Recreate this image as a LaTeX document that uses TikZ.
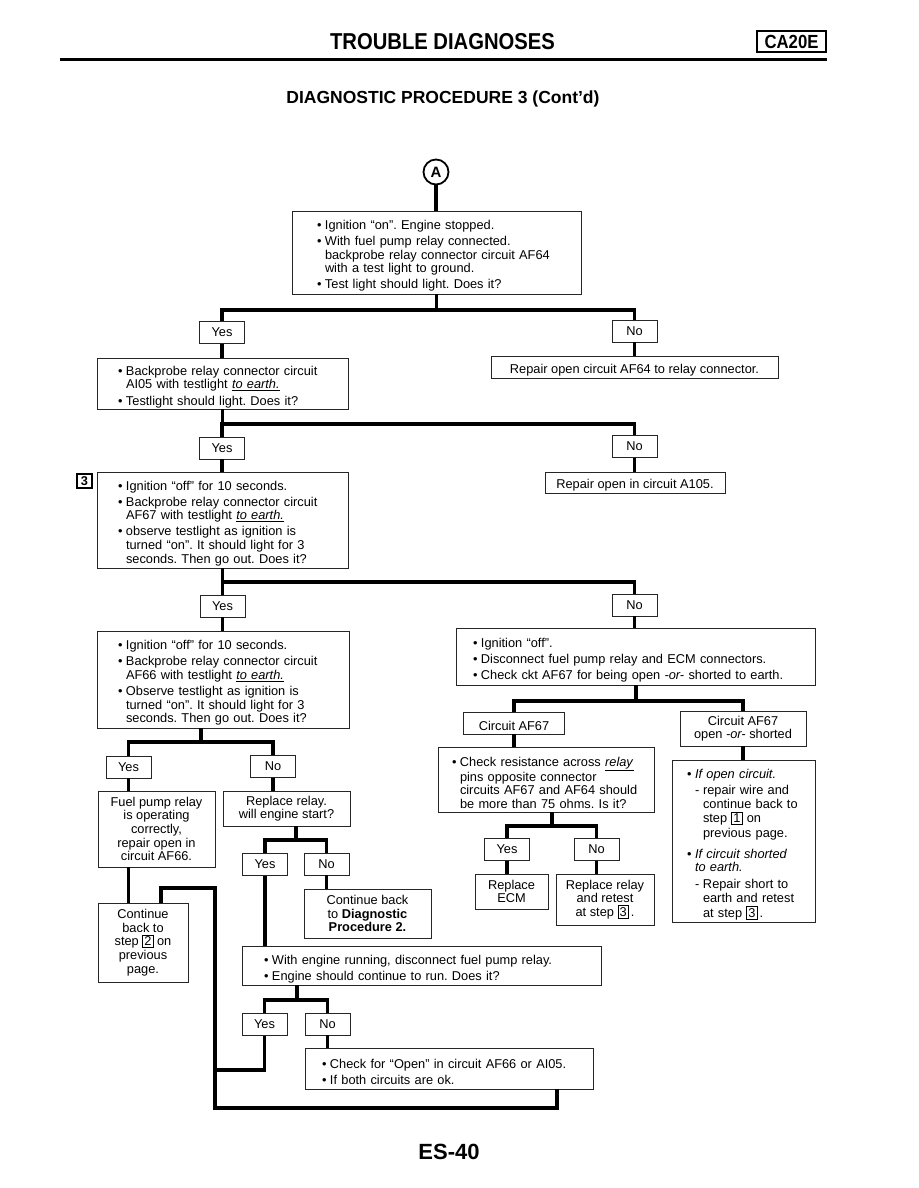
\documentclass[tikz,border=0pt]{standalone}
\usepackage{fontspec}
\usepackage{tikz}
\setmainfont{Liberation Sans}
\newfontfamily\headfont[FakeStretch=0.88]{Liberation Sans}
\frenchspacing
\newcommand{\boxfont}{\fontsize{12.8}{13.6}\selectfont}
\newcommand{\bul}{\makebox[8pt][l]{•}}
\newcommand{\ind}{\hspace*{8pt}}
\newcommand{\numbox}[1]{{\setlength{\fboxsep}{1.2pt}\setlength{\fboxrule}{0.8pt}\fbox{#1}}}

\begin{document}
\begin{tikzpicture}[x=1pt,y=-1pt,
  box/.style={draw=black!85,line width=0.9pt,fill=white,font=\boxfont,inner ysep=0pt},
  lbox/.style={box,align=left,execute at begin node={\rule{0pt}{16pt}}},
  cbox/.style={box,align=center,inner xsep=2pt,execute at begin node={\rule{0pt}{15pt}}},
  ans/.style={box,minimum width=45pt,minimum height=22pt,inner sep=0pt},
  wire/.style={line width=3.2pt}]
  \useasboundingbox (0,0) rectangle (918,1188);

  % page head
  \node[font=\headfont\fontsize{23}{26}\selectfont\bfseries] (title) at (442.5,42) {TROUBLE DIAGNOSES};
  \node[draw,line width=1.8pt,minimum width=69pt,minimum height=21pt,inner sep=0pt,
        font=\headfont\fontsize{19}{20}\selectfont\bfseries] (model) at (791.5,41.5) {CA20E};
  \coordinate (ruleL) at (60,60);
  \coordinate (ruleR) at (827,60);
  \draw[line width=3pt] (ruleL) -- (ruleR);
  \node[font=\fontsize{17.5}{20}\selectfont\bfseries] (sub) at (443,99) {DIAGNOSTIC PROCEDURE 3 (Cont’d)};
  \node[font=\fontsize{22}{24}\selectfont\bfseries] (page) at (449,1152) {ES-40};

  % first checks
  \node[circle,draw,line width=1.8pt,minimum size=25pt,inner sep=0pt,
        font=\fontsize{15}{15}\selectfont\bfseries] (conA) at (436,172) {A};
  \node[lbox,minimum height=83pt,text width=239pt,inner xsep=25pt] (chk1) at (436.5,252.5)
    {\bul Ignition “on”. Engine stopped.\\[2.5pt]
     \bul With fuel pump relay connected.\\
     \ind backprobe relay connector circuit AF64\\
     \ind with a test light to ground.\\[2.5pt]
     \bul Test light should light. Does it?};
  \node[ans] (yes1) at (222,332.5) {Yes};
  \node[ans] (no1) at (634.5,331) {No};
  \node[lbox,minimum height=51pt,text width=209pt,inner xsep=21pt] (chk2) at (222.5,383.5)
    {\bul Backprobe relay connector circuit\\
     \ind AI05 with testlight \underline{\textit{to earth.}}\\[2.5pt]
     \bul Testlight should light. Does it?};
  \node[cbox,minimum width=287pt,minimum height=22pt] (fix1) at (634.5,367) {Repair open circuit AF64 to relay connector.};
  \node[ans] (yes2) at (222,448) {Yes};
  \node[ans] (no2) at (634.5,446.5) {No};
  \node[draw,line width=1.3pt,minimum width=15pt,minimum height=14pt,inner sep=0pt,
        font=\boxfont\bfseries] (step3) at (84.5,481) {3};
  \node[lbox,minimum height=96pt,text width=209pt,inner xsep=21pt] (chk3) at (222.5,520)
    {\bul Ignition “off” for 10 seconds.\\[2.5pt]
     \bul Backprobe relay connector circuit\\
     \ind AF67 with testlight \underline{\textit{to earth.}}\\[2.5pt]
     \bul observe testlight as ignition is\\
     \ind turned “on”. It should light for 3\\
     \ind seconds. Then go out. Does it?};
  \node[cbox,minimum width=180pt,minimum height=21pt] (fix2) at (635,482.5) {Repair open in circuit A105.};
  \node[ans] (yes3) at (222.5,606) {Yes};
  \node[ans] (no3) at (634.5,605) {No};

  % left branch
  \node[lbox,minimum height=97pt,text width=210pt,inner xsep=21pt] (chk4) at (223,679.5)
    {\bul Ignition “off” for 10 seconds.\\[2.5pt]
     \bul Backprobe relay connector circuit\\
     \ind AF66 with testlight \underline{\textit{to earth.}}\\[2.5pt]
     \bul Observe testlight as ignition is\\
     \ind turned “on”. It should light for 3\\
     \ind seconds. Then go out. Does it?};
  \node[ans] (yes4) at (128.5,767) {Yes};
  \node[ans] (no4) at (273,766.5) {No};
  \node[cbox,minimum width=117pt,minimum height=76pt] (okrelay) at (156.5,829)
    {Fuel pump relay\\is operating\\correctly,\\repair open in\\circuit AF66.};
  \node[cbox,minimum width=127pt,minimum height=35pt] (newrelay) at (286.5,808.5)
    {Replace relay.\\will engine start?};
  \node[ans] (yes5) at (265,864.5) {Yes};
  \node[ans] (no5) at (326.5,864) {No};
  \node[cbox,minimum width=127pt,minimum height=49pt] (proc2) at (367.5,913.5)
    {Continue back\\to \textbf{Diagnostic}\\\textbf{Procedure 2.}};
  \node[cbox,minimum width=90pt,minimum height=79pt] (back2) at (143,942.5)
    {Continue\\back to\\step \numbox{2} on\\previous\\page.};
  \node[lbox,minimum height=39pt,text width=315pt,inner xsep=22pt] (chk8) at (421.5,965.5)
    {\bul With engine running, disconnect fuel pump relay.\\[2.5pt]
     \bul Engine should continue to run. Does it?};
  \node[ans] (yes6) at (264.5,1024.5) {Yes};
  \node[ans] (no6) at (327.5,1024) {No};
  \node[lbox,minimum height=41pt,text width=254pt,inner xsep=17pt] (chk9) at (449,1068.5)
    {\bul Check for “Open” in circuit AF66 or AI05.\\[2.5pt]
     \bul If both circuits are ok.};

  % right branch
  \node[lbox,minimum height=57pt,text width=325pt,inner xsep=17pt] (chk5) at (635.5,656.5)
    {\bul Ignition “off”.\\[2.5pt]
     \bul Disconnect fuel pump relay and ECM connectors.\\[2.5pt]
     \bul Check ckt AF67 for being open \textit{-or-} shorted to earth.};
  \node[cbox,minimum width=101pt,minimum height=22pt] (cktok) at (514,723) {Circuit AF67};
  \node[cbox,minimum width=126pt,minimum height=35pt] (cktbad) at (743,728.5) {Circuit AF67\\open \textit{-or-} shorted};
  \node[lbox,minimum height=65pt,text width=188pt,inner xsep=14pt] (chk6) at (546,779.5)
    {\bul Check resistance across \underline{\textit{relay}}\\
     \ind pins opposite connector\\
     \ind circuits AF67 and AF64 should\\
     \ind be more than 75 ohms. Is it?};
  \node[ans] (yes7) at (507,849.5) {Yes};
  \node[ans] (no7) at (596.5,849.5) {No};
  \node[cbox,minimum width=73pt,minimum height=35pt] (ecm) at (511.5,891.5) {Replace\\ECM};
  \node[cbox,minimum width=98pt,minimum height=51pt] (relay) at (605,899.5)
    {Replace relay\\and retest\\at step \numbox{3}\,.};
  \node[lbox,minimum height=162pt,text width=113pt,inner xsep=15pt,
        font=\fontsize{12.8}{14.4}\selectfont] (fix7) at (743.5,841)
    {\bul\textit{If open circuit.}\\[1.7pt]
     \ind\makebox[8pt][l]{-}repair wire and\\
     \ind\ind continue back to\\
     \ind\ind step \numbox{1} on\\
     \ind\ind previous page.\\[6.5pt]
     \bul\textit{If circuit shorted}\\[-1pt]
     \ind\textit{to earth.}\\[2.5pt]
     \ind\makebox[8pt][l]{-}Repair short to\\
     \ind\ind earth and retest\\
     \ind\ind at step \numbox{3}\,.};

  % connectors
  \coordinate (bar1) at (436,310);
  \coordinate (bar2) at (300,424);
  \coordinate (bar3) at (300,582);
  \coordinate (bar4) at (201,742);
  \coordinate (bar5) at (636,701);
  \coordinate (bar6) at (552,826);
  \coordinate (bar7) at (296,840);
  \coordinate (bar8) at (297,1000);
  \draw[wire] (conA.south) -- (conA.south |- chk1.north);
  \draw[wire] (chk1.south) -- (chk1.south |- bar1);
  \draw[wire] (yes1.north) |- (bar1) -| (no1.north);
  \draw[wire] (yes1.south) -- (yes1.south |- chk2.north);
  \draw[wire] (no1.south) -- (no1.south |- fix1.north);
  \draw[wire] (chk2.south) -- (chk2.south |- bar2);
  \draw[wire] (yes2.north) |- (bar2) -| (no2.north);
  \draw[wire] (yes2.south) -- (yes2.south |- chk3.north);
  \draw[wire] (no2.south) -- (no2.south |- fix2.north);
  \draw[wire] (chk3.south) -- (chk3.south |- bar3);
  \draw[wire] (yes3.north) |- (bar3) -| (no3.north);
  \draw[wire] (yes3.south) -- (yes3.south |- chk4.north);
  \draw[wire] (no3.south) -- (no3.south |- chk5.north);
  \draw[wire] (chk4.south -| bar4) -- (bar4);
  \draw[wire] (yes4.north) |- (bar4) -| (no4.north);
  \draw[wire] (yes4.south) -- (yes4.south |- okrelay.north);
  \draw[wire] (no4.south) -- (no4.south |- newrelay.north);
  \draw[wire] (yes4.south |- okrelay.south) -- (yes4.south |- back2.north);
  \draw[wire] (newrelay.south -| bar7) -- (bar7);
  \draw[wire] (yes5.north) |- (bar7) -| (no5.north);
  \draw[wire] (yes5.south) -- (yes5.south |- chk8.north);
  \draw[wire] (no5.south) -- (no5.south |- proc2.north);
  \draw[wire] (chk8.south -| bar8) -- (bar8);
  \draw[wire] (yes6.north) |- (bar8) -| (no6.north);
  \draw[wire] (no6.south) -- (no6.south |- chk9.north);
  \draw[wire] (chk5.south -| bar5) -- (bar5);
  \draw[wire] (cktok.north) |- (bar5) -| (cktbad.north);
  \draw[wire] (cktok.south) -- (cktok.south |- chk6.north);
  \draw[wire] (cktbad.south) -- (cktbad.south |- fix7.north);
  \draw[wire] (chk6.south -| bar6) -- (bar6);
  \draw[wire] (yes7.north) |- (bar6) -| (no7.north);
  \draw[wire] (yes7.south) -- (yes7.south |- ecm.north);
  \draw[wire] (no7.south) -- (no7.south |- relay.north);

  % loop back to step 2
  \coordinate (loopS) at (161,888);
  \coordinate (loopA) at (215,888);
  \coordinate (loopB) at (215,1108);
  \coordinate (loopE) at (557,1108);
  \coordinate (tap) at (215,1070);
  \draw[wire] (loopS |- back2.north) -- (loopS) -- (loopA) -- (loopB) -- (loopE) -- (loopE |- chk9.south);
  \draw[wire] (yes6.south) |- (tap);
\end{tikzpicture}
\end{document}
